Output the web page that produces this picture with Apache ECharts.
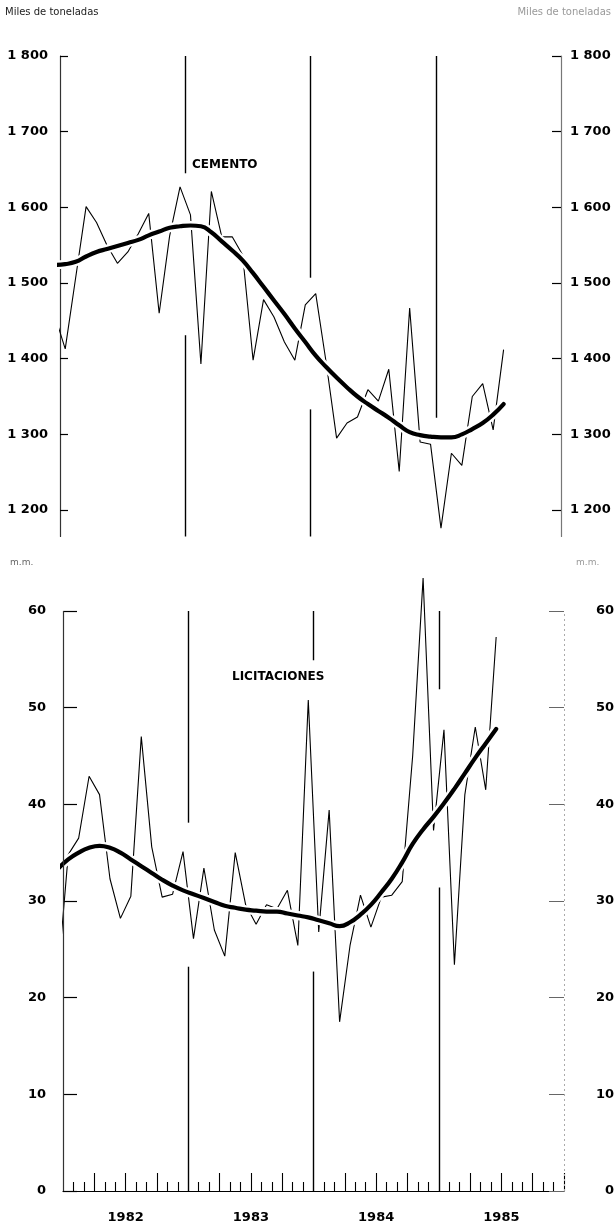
<!DOCTYPE html>
<html>
<head>
<meta charset="utf-8">
<script src="https://cdn.jsdelivr.net/npm/echarts@6/dist/echarts.min.js"></script>
<style>
  html, body { margin: 0; padding: 0; background: #fff; }
  #chart { width: 616px; height: 1226px; }
</style>
</head>
<body>
<div id="chart"></div>
<script>
// Year labels under the monthly axis
const years = ['1982', '1983', '1984', '1985'];

// Monthly series, Dec 1981 first so each line enters from the left edge
// Cemento, miles de toneladas (Dec 1981 - Jul 1985)
const cementoMensual = [
  1457,
  1413, 1507, 1601, 1580, 1550, 1526, 1541, 1565, 1592, 1460, 1562, 1627,
  1590, 1393, 1621, 1561, 1561, 1537, 1398, 1478, 1455, 1422, 1398, 1471,
  1486, 1395, 1295, 1315, 1323, 1359, 1344, 1386, 1251, 1467, 1290, 1287,
  1176, 1275, 1259, 1350, 1367, 1306, 1412
];
const cementoTendencia = [
  1524,
  1525, 1528, 1535, 1541, 1545, 1549, 1553, 1557, 1563, 1568, 1573, 1575,
  1576, 1575, 1567, 1555, 1543, 1530, 1513, 1495, 1477, 1459, 1440, 1422,
  1404, 1389, 1375, 1362, 1350, 1340, 1331, 1322, 1312, 1303, 1299, 1297,
  1296, 1296, 1300, 1307, 1315, 1326, 1340
];

// Licitaciones, m.m. (Dec 1981 - Jun 1985)
const licitacionesMensual = [
  22.0,
  34.8, 36.5, 42.9, 41.0, 32.3, 28.2, 30.5, 47.0, 35.6, 30.4, 30.7, 35.1,
  26.1, 33.4, 27.0, 24.3, 35.0, 29.6, 27.6, 29.6, 29.2, 31.1, 25.4, 50.8,
  26.8, 39.4, 17.5, 25.4, 30.6, 27.3, 30.4, 30.6, 32.0, 45.0, 63.4, 37.3,
  47.7, 23.4, 41.0, 48.0, 41.5, 57.3
];
const licitacionesTendencia = [
  33.3,
  34.3, 35.0, 35.5, 35.7, 35.5, 35.0, 34.3, 33.6, 32.9, 32.2, 31.6, 31.1,
  30.7, 30.3, 29.9, 29.5, 29.3, 29.1, 29.0, 28.9, 28.9, 28.7, 28.5, 28.3,
  28.0, 27.7, 27.4, 27.8, 28.6, 29.6, 30.9, 32.3, 34.0, 35.9, 37.4, 38.7,
  40.1, 41.6, 43.2, 44.8, 46.3, 47.8
];

// Value-axis tick labels
const cementoTicks = [1200, 1300, 1400, 1500, 1600, 1700, 1800];
const licitacionesTicks = [0, 10, 20, 30, 40, 50, 60];

const FONT = 'DejaVu Sans';
const CEM_MIN = 1165, CEM_MAX = 1800;
// The licitaciones scale runs to 60, but the plot keeps headroom for the 1984 peak
const LIC_TOP = 60, LIC_ROOM = 64;

// x is measured in months from Jan 1982; each value sits mid-month
const toPoints = values => values.map((v, i) => [i - 0.5, v]);

// Month boundaries (short ticks) and quarter boundaries (tall ticks)
const monthTicks = [], quarterTicks = [];
for (let m = 1; m <= 48; m++) {
  if (m % 12 === 0 && m < 48) continue;
  (m % 3 === 0 ? quarterTicks : monthTicks).push(m);
}

// Year dividers, drawn as broken vertical segments [month, from, to]
const cortesCemento = [[12, 1645, CEM_MAX], [12, CEM_MIN, 1431], [24, 1507, CEM_MAX], [24, CEM_MIN, 1333], [36, 1322, CEM_MAX]];
const cortesLicit = [[12, 38.1, LIC_TOP], [12, 0, 23.2], [24, 54.9, LIC_TOP], [24, 0, 22.7], [36, 51.9, LIC_TOP], [36, 0, 31.4]];

const solidRule = { color: '#000', width: 1.4, type: 'solid' };
const segLines = (segs, style) => ({
  silent: true,
  symbol: 'none',
  label: { show: false },
  emphasis: { disabled: true },
  lineStyle: style,
  data: segs.map(([x, a, b]) => [{ coord: [x, a] }, { coord: [x, b] }])
});

const spaced = v => String(v).replace(/(\d)(\d{3})$/, '$1 $2');

const labelStyle = { fontFamily: FONT, fontWeight: 'bold', fontSize: 13, color: '#000' };

const chart = echarts.init(document.getElementById('chart'), null, { renderer: 'canvas' });

chart.setOption({
  animation: false,
  backgroundColor: '#fff',
  grid: [
    { left: 60, right: 55, top: 56, height: 480.5, outerBoundsMode: 'none' },
    { left: 63, right: 52, top: 572.3, height: 618.7, outerBoundsMode: 'none' }
  ],
  xAxis: [
    { gridIndex: 0, type: 'value', min: 0, max: 48, show: false },
    {
      gridIndex: 1, type: 'value', min: 0, max: 48, position: 'bottom',
      axisLine: { show: true, onZero: false, lineStyle: { color: '#000', width: 1.2 } },
      axisTick: { show: true, inside: true, length: 9, customValues: monthTicks, lineStyle: { color: '#000', width: 1.1 } },
      axisLabel: {
        show: true, customValues: [6, 18, 30, 42], margin: 20,
        formatter: v => years[Math.round((v - 6) / 12)], ...labelStyle
      },
      splitLine: { show: false }
    },
    {
      gridIndex: 1, type: 'value', min: 0, max: 48, position: 'bottom',
      axisLine: { show: false, onZero: false },
      axisTick: { show: true, inside: true, length: 18, customValues: quarterTicks, lineStyle: { color: '#000', width: 1.1 } },
      axisLabel: { show: false },
      splitLine: { show: false }
    }
  ],
  yAxis: [
    {
      gridIndex: 0, type: 'value', position: 'left', min: CEM_MIN, max: CEM_MAX,
      axisLine: { show: true, onZero: false, lineStyle: { color: '#333', width: 1.2 } },
      axisTick: { show: true, inside: true, length: 8, customValues: cementoTicks, lineStyle: { color: '#000', width: 1.2 } },
      axisLabel: { customValues: cementoTicks, formatter: spaced, margin: 12, ...labelStyle },
      splitLine: { show: false }
    },
    {
      gridIndex: 0, type: 'value', position: 'right', min: CEM_MIN, max: CEM_MAX,
      axisLine: { show: true, onZero: false, lineStyle: { color: '#777', width: 1.2 } },
      axisTick: { show: true, inside: true, length: 9, customValues: cementoTicks, lineStyle: { color: '#000', width: 1.2 } },
      axisLabel: { customValues: cementoTicks, formatter: spaced, margin: 9, ...labelStyle },
      splitLine: { show: false }
    },
    {
      gridIndex: 1, type: 'value', position: 'left', min: 0, max: LIC_ROOM,
      axisLine: { show: false, onZero: false },
      axisTick: { show: true, inside: true, length: 14, customValues: licitacionesTicks, lineStyle: { color: '#000', width: 1.2 } },
      axisLabel: { customValues: licitacionesTicks, margin: 17, ...labelStyle },
      splitLine: { show: false }
    },
    {
      gridIndex: 1, type: 'value', position: 'right', min: 0, max: LIC_ROOM,
      axisLine: { show: false, onZero: false },
      axisTick: { show: true, inside: true, length: 15, customValues: licitacionesTicks, lineStyle: { color: '#666', width: 1 } },
      axisLabel: { customValues: licitacionesTicks, margin: 50, align: 'right', ...labelStyle },
      splitLine: { show: false }
    }
  ],
  series: [
    {
      type: 'line', xAxisIndex: 0, yAxisIndex: 0, data: toPoints(cementoMensual),
      symbol: 'none', z: 2, silent: true,
      lineStyle: { color: '#000', width: 1.1 },
      markLine: segLines(cortesCemento, solidRule)
    },
    {
      type: 'line', xAxisIndex: 0, yAxisIndex: 0, data: toPoints(cementoTendencia),
      symbol: 'none', smooth: true, z: 3, silent: true,
      lineStyle: { color: '#fff', width: 9 }
    },
    {
      type: 'line', xAxisIndex: 0, yAxisIndex: 0, data: toPoints(cementoTendencia),
      symbol: 'none', smooth: true, z: 4, silent: true,
      lineStyle: { color: '#000', width: 4.2, cap: 'round' }
    },
    {
      type: 'line', xAxisIndex: 1, yAxisIndex: 2, data: toPoints(licitacionesMensual),
      symbol: 'none', z: 2, silent: true,
      lineStyle: { color: '#000', width: 1.1 },
      markLine: segLines(cortesLicit, solidRule)
    },
    {
      // white halo: opens the thin line where it crosses the trend
      type: 'line', xAxisIndex: 1, yAxisIndex: 2, data: toPoints(licitacionesTendencia),
      symbol: 'none', smooth: true, z: 3, silent: true,
      lineStyle: { color: '#fff', width: 9 },
      // left scale line, 0 to 60
      markLine: segLines([[0, 0, LIC_TOP]], { color: '#333', width: 1.2, type: 'solid' })
    },
    {
      type: 'line', xAxisIndex: 1, yAxisIndex: 2, data: toPoints(licitacionesTendencia),
      symbol: 'none', smooth: true, z: 4, silent: true,
      lineStyle: { color: '#000', width: 4.2, cap: 'round' },
      // right scale line, 0 to 60
      markLine: segLines([[48, 0, LIC_TOP]], { color: '#aaa', width: 1, type: [2, 3] })
    }
  ],
  graphic: [
    { type: 'text', left: 5, top: 7, style: { text: 'Miles de toneladas', fontFamily: FONT, fontSize: 10, fill: '#222' } },
    { type: 'text', right: 5, top: 7, style: { text: 'Miles de toneladas', fontFamily: FONT, fontSize: 10, fill: '#999' } },
    { type: 'text', left: 10, top: 558, style: { text: 'm.m.', fontFamily: FONT, fontSize: 9, fill: '#666' } },
    { type: 'text', left: 576, top: 558, style: { text: 'm.m.', fontFamily: FONT, fontSize: 9, fill: '#999' } },
    { type: 'text', left: 192, top: 159, style: { text: 'CEMENTO', fontFamily: FONT, fontWeight: 'bold', fontSize: 12, fill: '#000' } },
    { type: 'text', left: 232, top: 671, style: { text: 'LICITACIONES', fontFamily: FONT, fontWeight: 'bold', fontSize: 12, fill: '#000' } }
  ]
});
</script>
</body>
</html>
